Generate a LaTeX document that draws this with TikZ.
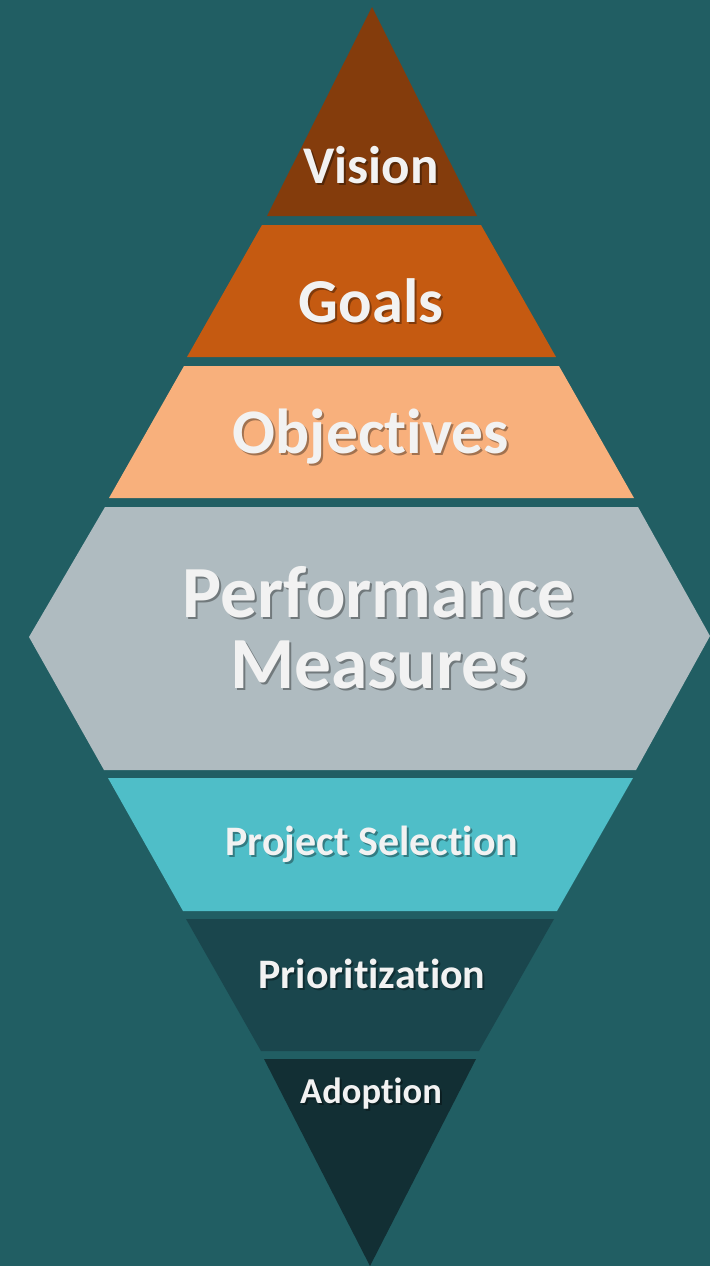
\documentclass[tikz,border=0pt]{standalone}
\usepackage{fontspec}
\setmainfont{Carlito}[RawFeature={-liga;-clig;-dlig;-calt}]
\definecolor{bgc}{HTML}{215E63}
\definecolor{visionc}{HTML}{843C0C}
\definecolor{goalsc}{HTML}{C55A11}
\definecolor{objc}{HTML}{F8B07C}
\definecolor{perfc}{HTML}{AFBBC0}
\definecolor{projc}{HTML}{4FBEC8}
\definecolor{priorc}{HTML}{1A464D}
\definecolor{adoptc}{HTML}{122F34}
\definecolor{txtc}{HTML}{F2F2F2}
\tikzset{
  lbl/.style={text=txtc, inner sep=0pt, anchor=base, font=\bfseries, align=center},
  lblshadow/.style={text=black, opacity=0.35, inner sep=0pt, anchor=base, font=\bfseries, align=center},
}
\newcommand{\shlabel}[5]{%
  \node[lblshadow] at (#2+2,#3+2.5) {\fontsize{#4}{#4}\selectfont #5};
  \node[lbl] (#1) at (#2,#3) {\fontsize{#4}{#4}\selectfont #5};
}
\begin{document}
\begin{tikzpicture}[x=1pt,y=-1pt]
\fill[bgc] (0,0) rectangle (710,1266);
\useasboundingbox (0,0) rectangle (710,1266);
% layers
\fill[visionc] (372,7) -- (477,216) -- (267,216) -- cycle;
\fill[goalsc] (262,225) -- (481,225) -- (556,357) -- (187,357) -- cycle;
\fill[objc] (184,366) -- (559,366) -- (634,498) -- (109,498) -- cycle;
\fill[perfc] (105,507) -- (638,507) -- (710,636) -- (636,770) -- (104,770) -- (29,637) -- cycle;
\fill[projc] (108,778) -- (633,778) -- (557,911) -- (183,911) -- cycle;
\fill[priorc] (186,919) -- (554,919) -- (479,1051) -- (261,1051) -- cycle;
\fill[adoptc] (264,1059) -- (476,1059) -- (370,1266) -- cycle;
% labels
\shlabel{vision}{371}{183}{53}{Vision}
\shlabel{goals}{371}{322}{62.5}{Goals}
\shlabel{objectives}{371}{453}{63.5}{Objectives}
\shlabel{perf1}{379}{617}{73.5}{Performance}
\shlabel{perf2}{379}{688}{73.5}{Measures}
\shlabel{project}{372}{855}{42}{Project Selection}
\shlabel{prior}{372}{988}{42}{Prioritization}
\shlabel{adopt}{371}{1103}{36.5}{Adoption}
\end{tikzpicture}
\end{document}
